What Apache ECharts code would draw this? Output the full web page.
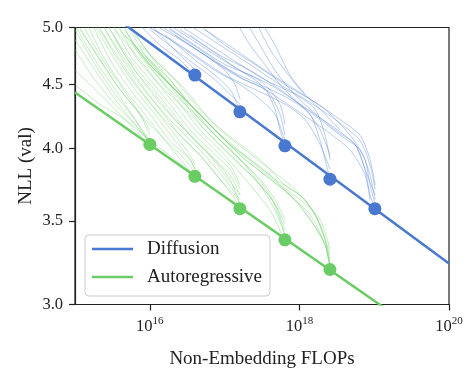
<!DOCTYPE html>
<html><head><meta charset="utf-8">
<script src="https://cdn.jsdelivr.net/npm/echarts@6/dist/echarts.min.js"></script>
<style>html,body{margin:0;padding:0;background:#fff}#c{width:474px;height:372px}</style>
</head><body><div id="c"></div>
<script>
// ---- data ----
const xTicks = [1e16, 1e18, 1e20];
const yTicks = [3.0, 3.5, 4.0, 4.5, 5.0];

const diffusionFLOPs = [4.0e16, 1.6e17, 6.4e17, 2.56e18, 1.02e19];
const diffusionNLL = [4.58, 4.28, 4.02, 3.78, 3.58];
const arFLOPs = [1.0e16, 4.0e16, 1.6e17, 6.4e17, 2.56e18];
const arNLL = [4.03, 3.80, 3.58, 3.38, 3.20];

const diffusionFit = [[1e15, 5.38], [1e20, 3.235]];
const arFit = [[1e15, 4.435], [1e20, 2.744]];

const diffusionRuns = [
 [[6.34e15,5.07],[1.37e16,4.84],[2.53e16,4.71],[3.45e16,4.62],[4.02e16,4.58]],
 [[8.63e15,5.07],[1.6e16,4.89],[2.53e16,4.75],[3.45e16,4.67],[4.02e16,4.62]],
 [[8.63e15,5.02],[1.86e16,4.89],[4.02e16,4.71],[7.44e16,4.58],[1.18e17,4.46],[1.38e17,4.38],[1.61e17,4.28]],
 [[1.17e16,5.02],[2.53e16,4.89],[5.47e16,4.75],[1.01e17,4.62],[1.38e17,4.50],[1.61e17,4.38]],
 [[1.01e16,4.98],[2.17e16,4.80],[4.02e16,4.67],[7.44e16,4.54],[1.18e17,4.42],[1.61e17,4.34]],
 [[1.37e16,5.02],[3.45e16,4.84],[8.68e16,4.67],[1.87e17,4.54],[3.47e17,4.46],[4.72e17,4.30],[5.5e17,4.14],[6.42e17,4.02]],
 [[1.6e16,5.02],[4.02e16,4.84],[1.01e17,4.67],[2.19e17,4.58],[3.47e17,4.50],[5.5e17,4.34],[6.42e17,4.18]],
 [[1.86e16,5.02],[4.69e16,4.84],[1.18e17,4.67],[2.55e17,4.54],[4.05e17,4.42],[5.5e17,4.26],[6.42e17,4.10]],
 [[1.17e16,4.98],[2.96e16,4.80],[7.44e16,4.62],[1.61e17,4.50],[2.97e17,4.38],[4.72e17,4.26],[6.42e17,4.06]],
 [[1.86e16,4.98],[4.69e16,4.80],[1.18e17,4.62],[2.97e17,4.50],[7.49e17,4.38],[1.39e18,4.26],[1.89e18,4.06],[2.2e18,3.92],[2.57e18,3.78]],
 [[2.53e16,5.02],[6.38e16,4.84],[1.61e17,4.67],[3.47e17,4.54],[8.74e17,4.42],[1.62e18,4.30],[2.2e18,4.10],[2.57e18,3.92]],
 [[1.6e16,4.93],[4.02e16,4.75],[1.01e17,4.58],[2.55e17,4.46],[6.42e17,4.34],[1.19e18,4.22],[1.89e18,4.03],[2.57e18,3.85]],
 [[3.45e16,4.93],[8.68e16,4.75],[2.19e17,4.62],[5.5e17,4.46],[1.19e18,4.30],[1.89e18,4.14],[2.57e18,3.95]],
 [[2.53e16,4.98],[6.38e16,4.80],[1.61e17,4.62],[4.05e17,4.50],[1.02e18,4.34],[2.57e18,4.18],[5.54e18,4.03],[7.54e18,3.85],[8.79e18,3.67],[1.03e19,3.58]],
 [[3.45e16,5.02],[8.68e16,4.84],[2.19e17,4.67],[5.5e17,4.50],[1.19e18,4.38],[2.99e18,4.22],[6.46e18,4.06],[8.79e18,3.88],[1.03e19,3.71]],
 [[4.69e16,5.02],[1.01e17,4.84],[2.55e17,4.67],[6.42e17,4.50],[1.39e18,4.38],[3.49e18,4.22],[6.46e18,4.10],[8.79e18,3.92],[1.03e19,3.74]],
 [[2.17e16,4.93],[5.47e16,4.75],[1.38e17,4.58],[3.47e17,4.46],[8.74e17,4.30],[2.2e18,4.14],[4.75e18,3.99],[7.54e18,3.81],[8.79e18,3.64]],
 [[5.47e16,4.98],[1.38e17,4.80],[3.47e17,4.62],[8.74e17,4.46],[2.2e18,4.30],[4.75e18,4.10],[7.54e18,3.92],[8.79e18,3.74],[1.03e19,3.61]],
 [[1.38e17,5.07],[2.19e17,4.84],[3.47e17,4.67],[5.5e17,4.50],[1.02e18,4.34],[1.89e18,4.22],[3.49e18,4.10],[6.46e18,3.99],[8.79e18,3.81],[1.03e19,3.64]],
 [[1.87e17,5.07],[2.97e17,4.84],[4.72e17,4.62],[7.49e17,4.46],[1.39e18,4.30],[2.99e18,4.14],[5.54e18,4.03],[7.54e18,3.85],[1.03e19,3.67]],
 [[2.55e17,5.07],[4.05e17,4.80],[6.42e17,4.62],[1.02e18,4.46],[1.89e18,4.30],[3.49e18,4.14]],
 [[2.97e17,5.07],[4.72e17,4.84],[7.49e17,4.58],[1.19e18,4.42]]
];

const arRuns = [
 [[1e15,4.98],[1.85e15,4.67],[3.43e15,4.42],[6.34e15,4.22],[1.0e16,4.03]],
 [[1e15,4.80],[1.85e15,4.54],[3.43e15,4.34],[6.34e15,4.18],[1.0e16,4.06]],
 [[1e15,4.62],[1.85e15,4.46],[3.43e15,4.30],[6.34e15,4.14],[8.63e15,4.06]],
 [[1e15,4.89],[1.85e15,4.62],[3.43e15,4.38],[6.34e15,4.18],[1.0e16,4.04]],
 [[1e15,5.02],[1.85e15,4.71],[3.43e15,4.46],[6.34e15,4.22],[1.01e16,4.06]],
 [[1e15,5.07],[2.16e15,4.71],[4.0e15,4.46],[7.4e15,4.26],[1.0e16,4.14]],
 [[1.17e15,5.07],[2.16e15,4.75],[4.0e15,4.50],[7.4e15,4.26],[1.0e16,4.10]],
 [[1.36e15,5.07],[2.52e15,4.71],[4.66e15,4.46],[8.63e15,4.26],[1.6e16,4.06],[2.96e16,3.88],[4.0e16,3.80]],
 [[1.59e15,5.07],[2.94e15,4.71],[5.44e15,4.46],[1.01e16,4.26],[1.86e16,4.06],[3.45e16,3.92],[4.02e16,3.85]],
 [[1.85e15,5.07],[3.43e15,4.75],[6.34e15,4.50],[1.17e16,4.30],[2.17e16,4.10],[3.45e16,3.95],[4.02e16,3.88]],
 [[1.85e15,5.02],[3.43e15,4.71],[6.34e15,4.46],[1.17e16,4.26],[2.17e16,4.06],[3.45e16,3.92],[4.02e16,3.85]],
 [[1e15,4.50],[2.16e15,4.34],[4.66e15,4.22],[1.01e16,4.06],[2.17e16,3.92],[4.02e16,3.81]],
 [[1.17e15,4.98],[2.16e15,4.71],[4.0e15,4.46],[8.63e15,4.22],[1.86e16,4.03],[2.96e16,3.92],[4.02e16,3.82]],
 [[2.16e15,5.07],[4.0e15,4.75],[7.4e15,4.50],[1.37e16,4.30],[2.53e16,4.10],[4.69e16,3.95],[8.68e16,3.78],[1.38e17,3.64],[1.61e17,3.58]],
 [[2.52e15,5.07],[4.66e15,4.75],[8.63e15,4.50],[1.6e16,4.30],[2.96e16,4.14],[5.47e16,3.99],[1.01e17,3.81],[1.61e17,3.67]],
 [[2.94e15,5.07],[5.44e15,4.75],[1.01e16,4.54],[1.86e16,4.34],[3.45e16,4.14],[6.38e16,3.99],[1.18e17,3.85],[1.61e17,3.71]],
 [[3.43e15,5.07],[6.34e15,4.75],[1.17e16,4.54],[2.17e16,4.34],[4.02e16,4.14],[7.44e16,3.99],[1.18e17,3.88],[1.61e17,3.74]],
 [[2.16e15,4.98],[4.0e15,4.71],[7.4e15,4.46],[1.37e16,4.26],[2.53e16,4.10],[4.69e16,3.95],[8.68e16,3.78],[1.38e17,3.67],[1.61e17,3.61]],
 [[2.94e15,4.98],[5.44e15,4.71],[1.01e16,4.50],[1.86e16,4.30],[3.45e16,4.10],[6.38e16,3.95],[1.18e17,3.81],[1.61e17,3.67]],
 [[2.52e15,4.98],[4.66e15,4.71],[8.63e15,4.46],[1.6e16,4.26],[2.96e16,4.10],[5.47e16,3.95],[1.01e17,3.78],[1.61e17,3.64]],
 [[3.43e15,4.89],[6.34e15,4.62],[1.17e16,4.42],[2.17e16,4.22],[4.02e16,4.06],[7.44e16,3.92],[1.18e17,3.78],[1.61e17,3.61]],
 [[4.0e15,5.07],[7.4e15,4.75],[1.37e16,4.54],[2.53e16,4.34],[4.69e16,4.14],[1.01e17,3.95],[2.19e17,3.74],[4.05e17,3.57],[5.5e17,3.44],[6.42e17,3.38]],
 [[4.66e15,5.07],[8.63e15,4.75],[1.6e16,4.54],[2.96e16,4.34],[5.47e16,4.14],[1.18e17,3.95],[2.55e17,3.78],[4.72e17,3.61],[6.42e17,3.48]],
 [[5.44e15,5.02],[1.01e16,4.75],[1.86e16,4.54],[3.45e16,4.34],[6.38e16,4.14],[1.38e17,3.95],[2.97e17,3.78],[4.72e17,3.64],[6.42e17,3.51]],
 [[3.43e15,4.98],[7.4e15,4.71],[1.37e16,4.50],[2.96e16,4.30],[6.38e16,4.10],[1.38e17,3.92],[2.97e17,3.74],[4.72e17,3.61],[6.42e17,3.44]],
 [[4.66e15,4.98],[8.63e15,4.71],[1.6e16,4.50],[3.45e16,4.30],[7.44e16,4.10],[1.61e17,3.92],[2.97e17,3.74],[4.72e17,3.57],[6.42e17,3.41]],
 [[5.44e15,4.89],[1.01e16,4.67],[2.17e16,4.46],[4.69e16,4.22],[1.01e17,4.03],[2.19e17,3.85],[4.05e17,3.67],[5.5e17,3.51],[6.42e17,3.41]],
 [[4.0e15,4.98],[8.63e15,4.71],[1.6e16,4.54],[3.45e16,4.34],[7.44e16,4.14],[1.61e17,3.95],[3.47e17,3.81],[7.49e17,3.67],[1.39e18,3.51],[2.2e18,3.35],[2.57e18,3.20]],
 [[6.34e15,4.93],[1.17e16,4.71],[2.17e16,4.54],[4.02e16,4.34],[8.68e16,4.14],[1.87e17,3.99],[4.05e17,3.85],[8.74e17,3.71],[1.62e18,3.54],[2.2e18,3.38],[2.57e18,3.26]],
 [[7.4e15,4.84],[1.37e16,4.67],[2.96e16,4.46],[6.38e16,4.22],[1.38e17,4.06],[2.97e17,3.92],[6.42e17,3.74],[1.19e18,3.64],[1.89e18,3.48],[2.57e18,3.29]],
 [[1.01e16,4.71],[2.17e16,4.46],[4.69e16,4.26],[1.01e17,4.06],[2.19e17,3.92],[4.72e17,3.78],[1.02e18,3.67],[1.62e18,3.54],[2.2e18,3.38],[2.57e18,3.23]],
 [[4.66e15,4.93],[8.63e15,4.75],[1.86e16,4.54],[3.45e16,4.34],[7.44e16,4.14],[1.87e17,3.95],[4.05e17,3.81],[7.49e17,3.67],[1.39e18,3.54],[2.2e18,3.35],[2.57e18,3.23]],
 [[6.34e15,4.84],[1.17e16,4.62],[2.53e16,4.42],[5.47e16,4.22],[1.18e17,4.03],[2.55e17,3.88],[5.5e17,3.74],[1.02e18,3.64],[1.89e18,3.51],[2.57e18,3.32]],
 [[8.63e15,4.75],[1.86e16,4.50],[4.02e16,4.30],[8.68e16,4.10],[1.87e17,3.92],[4.05e17,3.78],[8.74e17,3.64],[1.39e18,3.51],[2.2e18,3.35],[2.57e18,3.20]]
];

// ---- styling ----
const BLUE = '#4878D0', GREEN = '#6ACC64', INK = '#222222';
const FONT = '"Liberation Serif","Times New Roman",serif';

function runSeries(runs, color) {
  return runs.map(r => ({
    type: 'line', data: r, smooth: 0.25, symbol: 'none', silent: true, z: 1,
    lineStyle: { color: color, width: 1, opacity: 0.38 }
  }));
}

const chart = echarts.init(document.getElementById('c'), null, { renderer: 'canvas' });
chart.setOption({
  animation: false,
  backgroundColor: '#fff',
  grid: { left: 75, right: 25, top: 27.5, bottom: 67.5, show: true, borderColor: INK, borderWidth: 1.2,
          backgroundColor: 'transparent', containLabel: false, outerBoundsMode: 'none' },
  xAxis: {
    type: 'log', logBase: 10, min: 1e15, max: 1e20,
    name: 'Non-Embedding FLOPs', nameLocation: 'middle', nameGap: 45, nameMoveOverlap: false,
    nameTextStyle: { fontFamily: FONT, fontSize: 19, color: INK },
    axisLine: { show: true, lineStyle: { color: INK, width: 1.2 } },
    axisTick: { show: true, customValues: xTicks, length: 6, lineStyle: { color: INK, width: 1.2 } },
    minorTick: { show: false },
    splitLine: { show: false },
    axisLabel: {
      customValues: xTicks, margin: 11,
      formatter: v => '{b|10}{s|' + Math.round(Math.log10(v)) + '}',
      rich: {
        b: { fontFamily: FONT, fontSize: 16.5, color: INK, lineHeight: 20, verticalAlign: 'bottom' },
        s: { fontFamily: FONT, fontSize: 11, color: INK, lineHeight: 11, verticalAlign: 'top' }
      }
    }
  },
  yAxis: {
    type: 'log', logBase: 10, min: 3, max: 5,
    name: 'NLL (val)', nameLocation: 'middle', nameGap: 39, nameRotate: 90, nameMoveOverlap: false,
    nameTextStyle: { fontFamily: FONT, fontSize: 19, color: INK },
    axisLine: { show: true, lineStyle: { color: INK, width: 1.2 } },
    axisTick: { show: true, customValues: yTicks, length: 6, lineStyle: { color: INK, width: 1.2 } },
    splitLine: { show: false },
    axisLabel: {
      customValues: yTicks, margin: 12,
      fontFamily: FONT, fontSize: 16.5, color: INK,
      formatter: v => Number(v).toFixed(1)
    }
  },
  legend: {
    data: ['Diffusion', 'Autoregressive'],
    orient: 'vertical', left: 85, top: 235,
    icon: 'rect', itemWidth: 41, itemHeight: 2.5, itemGap: 8,
    backgroundColor: '#fff', borderColor: '#cccccc', borderWidth: 1, borderRadius: 4,
    padding: [4, 8, 9, 7],
    textStyle: { fontFamily: FONT, fontSize: 19, color: INK, lineHeight: 20, padding: [0, 0, 0, 9] }
  },
  series: [
    ...runSeries(diffusionRuns, BLUE),
    ...runSeries(arRuns, GREEN),
    { name: 'Diffusion', type: 'line', data: diffusionFit, symbol: 'none', z: 3,
      lineStyle: { color: BLUE, width: 2.5 }, itemStyle: { color: BLUE } },
    { name: 'Autoregressive', type: 'line', data: arFit, symbol: 'none', z: 3,
      lineStyle: { color: GREEN, width: 2.5 }, itemStyle: { color: GREEN } },
    { type: 'scatter', data: diffusionFLOPs.map((x, i) => [x, diffusionNLL[i]]), symbolSize: 13, z: 4,
      itemStyle: { color: BLUE, opacity: 1 } },
    { type: 'scatter', data: arFLOPs.map((x, i) => [x, arNLL[i]]), symbolSize: 13, z: 4,
      itemStyle: { color: GREEN, opacity: 1 } }
  ]
});
</script></body></html>
